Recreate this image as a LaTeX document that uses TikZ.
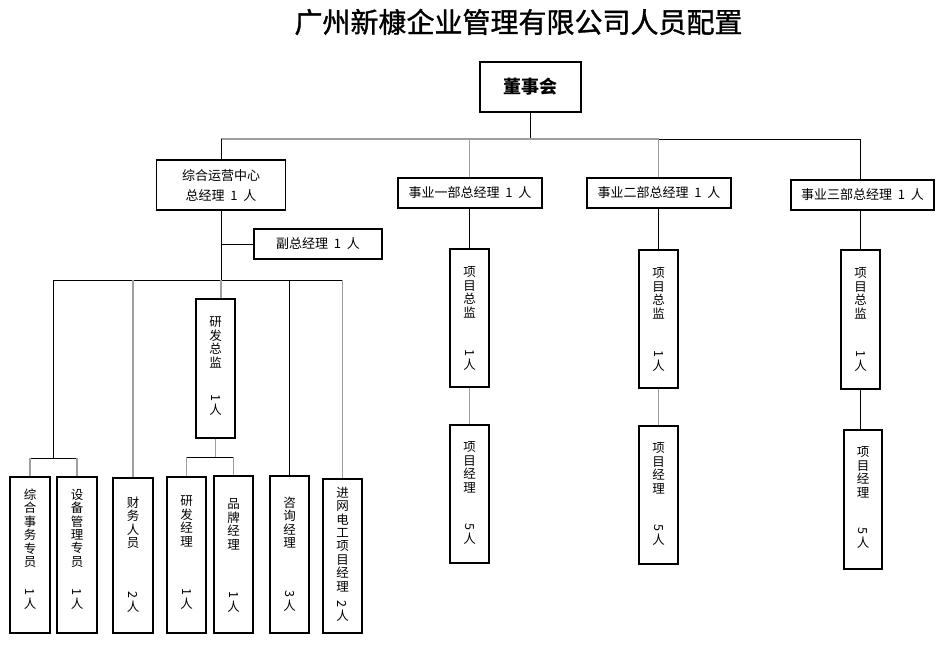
\documentclass[tikz,border=0pt]{standalone}
\usepackage{fontspec}
\setmainfont{Noto Sans CJK SC}
\newfontfamily\titlefont[FakeBold=1.2]{Noto Sans CJK SC}
\usepackage{graphicx}
\tikzset{
  hbox/.style={draw, line width=1.1pt, inner sep=0pt, font=\fontsize{13pt}{15pt}\selectfont},
  vbox/.style={draw, line width=1.1pt, inner sep=0pt},
  conn/.style={line width=1pt, black},
  gconn/.style={line width=1.6pt, gray!75},
}
% #1 height, #2 width, #3 centre of first char from top, #4 chars, #5 gap to digit, #6 digit
\newcommand{\vcol}[6]{\parbox[c][#1pt][t]{#2pt}{\centering\fontsize{12.5pt}{13.4pt}\selectfont\vspace*{\dimexpr #3pt - 6pt\relax}#4\\[\dimexpr #5pt - 13.4pt\relax]\rotatebox[origin=c]{-90}{#6}\\[-1.4pt]人\par}}
\newcommand{\onep}{\hspace{0.45em}1\hspace{0.45em}人}
\begin{document}
\begin{tikzpicture}[x=1pt,y=-1pt]
\useasboundingbox (0,0) rectangle (946,651);
\node (title) at (518.5,22) {\fontsize{28pt}{30pt}\titlefont 广州新槺企业管理有限公司人员配置};
\node[hbox, minimum width=101pt, minimum height=50pt, font=\fontsize{18pt}{20pt}\selectfont\bfseries] (board) at (530.5,87) {董事会};
\node[hbox, minimum width=129pt, minimum height=50pt, align=center, font=\fontsize{13pt}{20pt}\selectfont] (zh) at (221,185) {综合运营中心\\总经理\onep};
\node[hbox, minimum width=128pt, minimum height=30pt] (fu) at (318,244) {副总经理\onep};
\node[hbox, minimum width=144pt, minimum height=30pt] (b1) at (470,193) {事业一部总经理\onep};
\node[hbox, minimum width=144pt, minimum height=30pt] (b2) at (659,193) {事业二部总经理\onep};
\node[hbox, minimum width=143pt, minimum height=30pt] (b3) at (862.5,195) {事业三部总经理\onep};
% project columns
\node[vbox] (pd1) at (469.5,318) {\vcol{138}{39}{24}{项\\目\\总\\监}{40}{1}};
\node[vbox] (pm1) at (469.5,494) {\vcol{138}{39}{23}{项\\目\\经\\理}{39}{5}};
\node[vbox] (pd2) at (658.5,319) {\vcol{138}{39}{24}{项\\目\\总\\监}{40}{1}};
\node[vbox] (pm2) at (658.5,495) {\vcol{138}{39}{23}{项\\目\\经\\理}{39}{5}};
\node[vbox] (pd3) at (860.5,319.5) {\vcol{139}{39}{24}{项\\目\\总\\监}{40}{1}};
\node[vbox] (pm3) at (863,499.5) {\vcol{139}{38}{23}{项\\目\\经\\理}{38}{5}};
% left side
\node[vbox] (rd) at (215.5,368.5) {\vcol{139}{39}{24}{研\\发\\总\\监}{35}{1}};
\node[vbox] (s1) at (30,555) {\vcol{156}{40}{18}{综\\合\\事\\务\\专\\员}{30}{1}};
\node[vbox] (s2) at (77,555) {\vcol{156}{40}{18}{设\\备\\管\\理\\专\\员}{30}{1}};
\node[vbox] (s3) at (133,555.5) {\vcol{155}{40}{25}{财\\务\\人\\员}{52}{2}};
\node[vbox] (s4) at (186.5,555) {\vcol{156}{39}{25}{研\\发\\经\\理}{50}{1}};
\node[vbox] (s5) at (233.5,554.5) {\vcol{157}{39}{29}{品\\牌\\经\\理}{50}{1}};
\node[vbox] (s6) at (289.5,554.5) {\vcol{157}{39}{27}{咨\\询\\经\\理}{51}{3}};
\node[vbox] (s7) at (342.5,556) {\vcol{154}{39}{14}{进\\网\\电\\工\\项\\目\\经\\理}{17}{2}};
% connectors
\coordinate (busL) at (221,139);
\coordinate (lbus) at (0,280);
\coordinate (g1) at (53.5,458);
\coordinate (g2) at (0,457);
\draw[conn] (board.south) -- (board.south |- busL);
\draw[gconn] (busL) -- (pd2.north |- busL);
\draw[conn] (pd2.north |- busL) -- (pd3.north |- busL);
\draw[conn] (busL) -- (zh.north);
\draw[gconn] (pd1.north |- busL) -- (pd1.north |- b1.north);
\draw[gconn] (pd2.north |- busL) -- (pd2.north |- b2.north);
\draw[conn] (pd3.north |- busL) -- (pd3.north |- b3.north);
\draw[conn] (pd1.north |- b1.south) -- (pd1.north);
\draw[conn] (pd2.north |- b2.south) -- (pd2.north);
\draw[conn] (pd3.north |- b3.south) -- (pd3.north);
\draw[gconn] (pd1.south) -- (pm1.north);
\draw[gconn] (pd2.south) -- (pm2.north);
\draw[conn] (pd3.south) -- (pd3.south |- pm3.north);
\draw[conn] (zh.south) -- (zh.south |- lbus);
\draw[conn] (zh.south |- fu.west) -- (fu.west);
\draw[conn] (g1 |- lbus) -- (s7.north |- lbus);
\draw[conn] (g1 |- lbus) -- (g1);
\draw[conn] (s1.north |- g1) -- (s2.north |- g1);
\draw[gconn] (s1.north |- g1) -- (s1.north);
\draw[gconn] (s2.north |- g1) -- (s2.north);
\draw[gconn] (s3.north |- lbus) -- (s3.north);
\draw[gconn] (zh.south |- lbus) -- (zh.south |- rd.north);
\draw[conn] (s6.north |- lbus) -- (s6.north);
\draw[gconn] (s7.north |- lbus) -- (s7.north);
\draw[gconn] (rd.south) -- (rd.south |- g2);
\draw[conn] (s4.north |- g2) -- (s5.north |- g2);
\draw[gconn] (s4.north |- g2) -- (s4.north);
\draw[gconn] (s5.north |- g2) -- (s5.north);
\end{tikzpicture}
\end{document}
